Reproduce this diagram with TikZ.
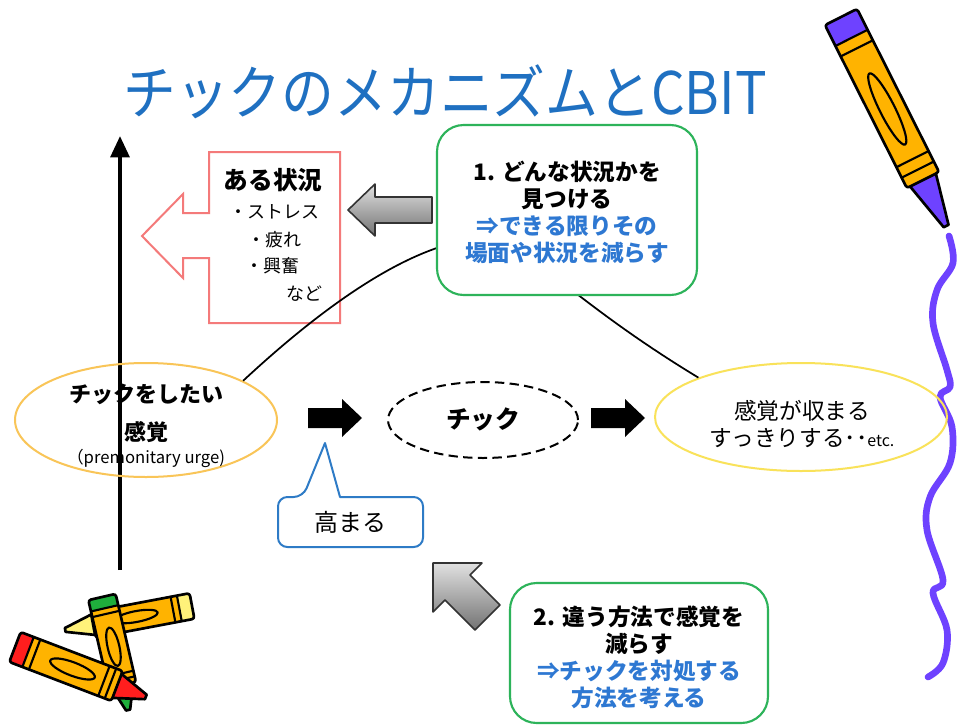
\documentclass[tikz,border=0pt]{standalone}
\usepackage{fontspec}
\setmainfont{Noto Sans CJK JP}
\usetikzlibrary{shapes.geometric,arrows.meta}

\definecolor{titleblue}{HTML}{1F70C1}
\definecolor{boxgreen}{HTML}{2DB35A}
\definecolor{noteblue}{HTML}{2E78D2}
\definecolor{alertred}{HTML}{F47A7A}
\definecolor{urgegold}{HTML}{F9C558}
\definecolor{calmyellow}{HTML}{F9E25A}
\definecolor{calloutblue}{HTML}{2E7BC6}
\definecolor{crayonpurple}{HTML}{6E42FF}
\definecolor{crayonbody}{HTML}{FFB300}
\definecolor{crayonred}{HTML}{FF1E1E}
\definecolor{crayongreen}{HTML}{1FAE3C}
\definecolor{crayonpale}{HTML}{FFF27A}

% one crayon: #1,#2 centre of the flat end, #3 direction, #4 length, #5 width, #6 end colour
\newcommand{\drawcrayon}[6]{%
  \begin{scope}[shift={(#1,#2)}, rotate=#3, line join=round, line cap=round]
    \pgfmathsetmacro{\cl}{#4}
    \pgfmathsetmacro{\ch}{#5/2}
    \pgfmathsetmacro{\ct}{#4*0.78}
    \pgfmathsetmacro{\cc}{#4*0.1}
    \fill[crayonbody] (0,-\ch) rectangle (\ct,\ch);
    \fill[#6] (0,-\ch) rectangle (\cc,\ch);
    \fill[#6] (\ct,-\ch*0.8) -- (\cl,-\ch*0.15) -- (\cl,\ch*0.15) -- (\ct,\ch*0.8) -- cycle;
    \draw[line width=2pt] (\ct,-\ch*0.8) -- (\cl,-\ch*0.15) -- (\cl,\ch*0.15) -- (\ct,\ch*0.8);
    \draw[line width=2pt, rounded corners=2pt] (0,-\ch) rectangle (\ct,\ch);
    \draw[line width=1.6pt] (\cc,-\ch) -- (\cc,\ch);
    \draw[line width=1.6pt] (\cc+0.05*\cl,-\ch) -- (\cc+0.05*\cl,\ch);
    \draw[line width=1.6pt] (\ct-0.05*\cl,-\ch) -- (\ct-0.05*\cl,\ch);
    \draw[line width=1.6pt] (\ct-0.1*\cl,-\ch) -- (\ct-0.1*\cl,\ch);
    \draw[line width=1.6pt] (\cl*0.44,0) ellipse [x radius=\cl*0.17, y radius=\ch*0.42];
  \end{scope}}

\begin{document}
\begin{tikzpicture}[x=0.75pt, y=-0.75pt,
  txt/.style={inner sep=0pt, align=center},
  bodytext/.style={txt, font=\fontsize{17}{20.25}\selectfont},
  greenbox/.style={draw=boxgreen, line width=1.6pt, rounded corners=20pt, fill=white, inner sep=0pt},
  blockarrow/.style={fill=black},
  greyarrow/.style={draw=black!80, line width=1.2pt, line join=round, top color=black!12, bottom color=black!55},
  link/.style={draw=black, line width=1.3pt}]

\useasboundingbox (0,0) rectangle (957,725);
\fill[white] (0,0) rectangle (957,725);

% crayon in the top right corner and its wavy stroke
\draw[crayonpurple, line width=5pt, line cap=round, line join=round]
  plot[smooth, tension=0.6] coordinates {(949,236) (953,263) (937,290) (933,323) (947,370) (950,387) (940,397) (952,427) (950,463) (930,497) (927,530) (943,580) (933,593) (947,630) (943,663) (928,677)};
\drawcrayon{841}{17}{-63.3}{234}{36}{crayonpurple}

% title
\node[txt, text=titleblue, font=\fontsize{44}{50}\selectfont] (title) at (445,92) {\scalebox{0.9}[1]{チックのメカニズムとCBIT}};

% vertical axis
\coordinate (axisbot) at (120,570);
\coordinate (axistop) at (120,136);
\draw[line width=3pt, -{Triangle[length=16pt,width=14pt]}] (axisbot) -- (axistop);

% situation arrow box
\draw[alertred, line width=1.5pt, fill=white, line join=miter]
  (209,152) -- (340,152) -- (340,323) -- (209,323) -- (209,258) -- (183,258) -- (183,278)
  -- (142,236) -- (183,194) -- (183,213) -- (209,213) -- cycle;
\node[txt, font=\fontsize{18.5}{20}\selectfont\bfseries] (sitA) at (273,180) {ある状況};
\node[txt, font=\fontsize{13.5}{15}\selectfont] (sitB) at (274,212) {・ストレス};
\node[txt, font=\fontsize{13.5}{15}\selectfont] (sitC) at (274,240) {・疲れ};
\node[txt, font=\fontsize{13.5}{15}\selectfont] (sitD) at (272,266) {・興奮};
\node[txt, font=\fontsize{13.5}{15}\selectfont] (sitE) at (304,294) {など};

% ellipses
\node[draw=urgegold, line width=1.5pt, ellipse, inner sep=0pt, minimum width=196.5pt, minimum height=85.5pt] (urge) at (146,420) {};
\node[draw=calmyellow, line width=1.5pt, ellipse, inner sep=0pt, minimum width=219pt, minimum height=81pt] (calm) at (801,417) {};
\node[draw=black, line width=1.5pt, dashed, dash pattern=on 7pt off 4pt, ellipse, inner sep=0pt, minimum width=142.5pt, minimum height=57pt] (tic) at (483,420) {};

% urge curve
\coordinate (peak) at (490,238);
\draw[link] (urge.22) .. controls (330,300) and (420,238) .. (peak)
  .. controls (520,238) and (570,300) .. (calm.159);

% step 1
\node[greenbox, minimum width=195pt, minimum height=127.5pt] (step1) at (567,210) {};
\node[bodytext] (step1txt) at (567,212) {\bfseries 1. どんな状況かを\\\bfseries 見つける\\\textcolor{noteblue}{\bfseries ⇒できる限りその}\\\textcolor{noteblue}{\bfseries 場面や状況を減らす}};
\draw[greyarrow] (348,210) -- (375,184) -- (375,197) -- (432,197) -- (432,223) -- (375,223) -- (375,236) -- cycle;

% ellipse texts
\node[txt, font=\fontsize{16.5}{18}\selectfont\bfseries] (urgeA) at (146,394) {チックをしたい};
\node[txt, font=\fontsize{16.5}{18}\selectfont\bfseries] (urgeB) at (146,432) {感覚};
\node[txt, font=\fontsize{12.5}{14}\selectfont] (urgeC) at (146,458) {（premonitary urge)};
\node[txt, font=\fontsize{18.5}{20}\selectfont\bfseries] (tictxt) at (483,419) {チック};
\node[bodytext] (calmtxt) at (802,424) {感覚が収まる\\すっきりする･･{\fontsize{12}{12}\selectfont etc.}};

% flow arrows
\path[blockarrow] (308,408) -- (342,408) -- (342,399) -- (362,418) -- (342,437) -- (342,428) -- (308,428) -- cycle;
\path[blockarrow] (591,408) -- (625,408) -- (625,399) -- (645,418) -- (625,437) -- (625,428) -- (591,428) -- cycle;

% callout
\draw[calloutblue, line width=1.5pt, fill=white, line join=round]
  (278,510) [rounded corners=7pt] -- (278,497) -- (303,497) [sharp corners] -- (325,443) -- (340,497)
  [rounded corners=7pt] -- (423,497) -- (423,547) -- (278,547) -- (278,510);
\node[txt, font=\fontsize{18}{20}\selectfont] (rise) at (350,522) {高まる};

% step 2
\draw[greyarrow] (433,563) -- (482,563) -- (470,575) -- (500,605) -- (475,630) -- (445,600) -- (433,612) -- cycle;
\node[greenbox, minimum width=193.5pt, minimum height=105pt] (step2) at (639,653) {};
\node[bodytext] (step2txt) at (639,657) {\bfseries 2. 違う方法で感覚を\\\bfseries 減らす\\\textcolor{noteblue}{\bfseries ⇒チックを対処する}\\\textcolor{noteblue}{\bfseries 方法を考える}};

% crayons in the bottom left corner
\drawcrayon{192}{606}{-169.3}{129}{26}{crayonpale}
\drawcrayon{102}{597}{-77}{116}{28}{crayongreen}
\drawcrayon{15}{647}{-20.9}{140}{32}{crayonred}
\end{tikzpicture}
\end{document}
